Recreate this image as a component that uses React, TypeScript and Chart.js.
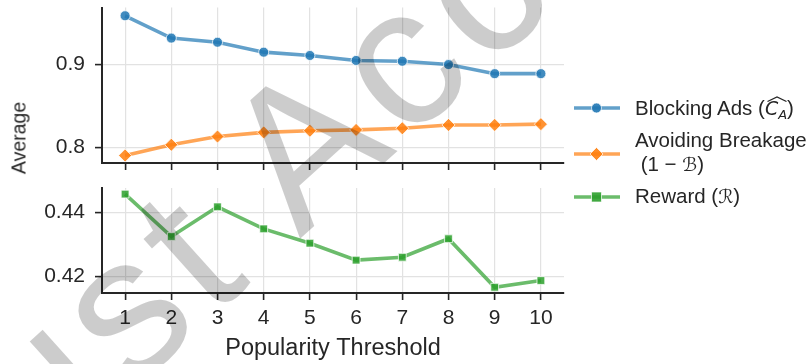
import React, { useEffect, useRef } from "react";
import { Chart, registerables } from "chart.js";
Chart.register(...registerables);

const thresholds = ["1", "2", "3", "4", "5", "6", "7", "8", "9", "10"];
const blockingAds = [0.959, 0.932, 0.927, 0.915, 0.911, 0.905, 0.904, 0.9, 0.889, 0.889];
const avoidingBreakage = [0.79, 0.803, 0.813, 0.818, 0.82, 0.821, 0.823, 0.827, 0.827, 0.828];
const reward = [0.4458, 0.4325, 0.4418, 0.4349, 0.4304, 0.4251, 0.426, 0.4318, 0.4166, 0.4187];
const topTicks = [0.8, 0.9];
const bottomTicks = [0.42, 0.44];
const topRange = [0.781, 0.969];
const bottomRange = [0.4148, 0.4477];

const FONT = "'Liberation Sans', Arial, sans-serif";
const DARK = "#262626";
const GRID = "#e2e2e2";

function zeroPad(s: any) {
  s.paddingTop = 0;
  s.paddingBottom = 0;
  s.paddingLeft = 0;
  s.paddingRight = 0;
}

function xScale(showLabels: boolean, height: number) {
  return {
    type: "category" as const,
    offset: true,
    grid: {
      offset: false,
      color: GRID,
      lineWidth: 1.2,
      drawTicks: true,
      tickLength: 7,
      tickColor: DARK,
      tickWidth: 1.6,
    },
    border: { color: DARK, width: 2 },
    ticks: {
      display: showLabels,
      color: DARK,
      padding: 6,
      font: { family: FONT, size: 21 },
      maxRotation: 0,
    },
    title: showLabels
      ? {
          display: true,
          text: "Popularity Threshold",
          color: DARK,
          font: { family: FONT, size: 23.5 },
          padding: { top: 0, bottom: 1 },
        }
      : { display: false },
    afterFit: (s: any) => {
      s.height = height;
      zeroPad(s);
    },
  };
}

function yScale(range: number[], ticks: number[], digits: number) {
  return {
    type: "linear" as const,
    min: range[0],
    max: range[1],
    afterBuildTicks: (s: any) => {
      s.ticks = ticks.map((v) => ({ value: v }));
    },
    afterFit: (s: any) => {
      s.width = 102;
      zeroPad(s);
    },
    grid: {
      color: GRID,
      lineWidth: 1.2,
      drawTicks: true,
      tickLength: 7,
      tickColor: DARK,
      tickWidth: 1.6,
    },
    border: { color: DARK, width: 2 },
    ticks: {
      color: DARK,
      padding: 10,
      font: { family: FONT, size: 21 },
      callback: (v: any) => Number(v).toFixed(digits),
    },
  };
}

function ds(label: string, data: number[], rgb: string, style: string, radius: number) {
  return {
    label,
    data,
    borderColor: `rgba(${rgb},0.7)`,
    backgroundColor: `rgba(${rgb},0.85)`,
    borderWidth: 3.6,
    pointStyle: style,
    pointRadius: radius,
    pointBackgroundColor: `rgba(${rgb},0.85)`,
    pointBorderColor: "rgba(255,255,255,0.75)",
    pointBorderWidth: 1,
    tension: 0,
  };
}

const BLUE = "31,119,180";
const ORANGE = "255,127,14";
const GREEN = "44,160,44";

function LegendMarker({ rgb, kind }: { rgb: string; kind: string }) {
  const c = 22.5;
  let marker: any = null;
  if (kind === "circle") marker = <circle cx={c} cy={8} r={5} fill={`rgba(${rgb},0.9)`} stroke="rgba(255,255,255,0.7)" strokeWidth={1} />;
  if (kind === "diamond")
    marker = (
      <polygon
        points={`${c},1.5 ${c + 6.5},8 ${c},14.5 ${c - 6.5},8`}
        fill={`rgba(${rgb},0.9)`}
        stroke="rgba(255,255,255,0.7)"
        strokeWidth={1}
      />
    );
  if (kind === "square") marker = <rect x={c - 5} y={3} width={10} height={10} fill={`rgba(${rgb},0.9)`} stroke="rgba(255,255,255,0.7)" strokeWidth={1} />;
  return (
    <svg width={46} height={16} style={{ display: "block" }}>
      <line x1={0} y1={8} x2={46} y2={8} stroke={`rgba(${rgb},0.7)`} strokeWidth={3.6} />
      {marker}
    </svg>
  );
}

export default function App() {
  const topRef = useRef<HTMLCanvasElement>(null);
  const botRef = useRef<HTMLCanvasElement>(null);

  useEffect(() => {
    const top = new Chart(topRef.current!, {
      type: "line",
      data: {
        labels: thresholds,
        datasets: [
          ds("Blocking Ads", blockingAds, BLUE, "circle", 5),
          ds("Avoiding Breakage", avoidingBreakage, ORANGE, "rectRot", 6.5),
        ],
      },
      options: {
        responsive: false,
        animation: false,
        layout: { padding: { top: 5, right: 36, left: 0, bottom: 0 } },
        plugins: { legend: { display: false }, tooltip: { enabled: false } },
        scales: {
          x: xScale(false, 12) as any,
          y: yScale(topRange, topTicks, 1) as any,
        },
      },
    });
    const bot = new Chart(botRef.current!, {
      type: "line",
      data: {
        labels: thresholds,
        datasets: [ds("Reward", reward, GREEN, "rect", 5.5)],
      },
      options: {
        responsive: false,
        animation: false,
        layout: { padding: { top: 8, right: 36, left: 0, bottom: 0 } },
        plugins: { legend: { display: false }, tooltip: { enabled: false } },
        scales: {
          x: xScale(true, 71) as any,
          y: yScale(bottomRange, bottomTicks, 2) as any,
        },
      },
    });
    return () => {
      top.destroy();
      bot.destroy();
    };
  }, []);

  const textStyle: React.CSSProperties = {
    position: "absolute",
    fontFamily: FONT,
    fontSize: 20.5,
    color: DARK,
    lineHeight: "24px",
    whiteSpace: "pre",
  };
  const math: React.CSSProperties = { fontFamily: "'DejaVu Sans', sans-serif", fontStyle: "italic", fontSize: 19 };

  return (
    <div style={{ position: "absolute", left: 0, top: 0, width: 809, height: 364, background: "#fff", overflow: "hidden" }}>
      <canvas ref={topRef} width={600} height={175} style={{ position: "absolute", left: 0, top: 0 }} />
      <canvas ref={botRef} width={600} height={184} style={{ position: "absolute", left: 0, top: 180 }} />
      <div
        style={{
          position: "absolute",
          left: 19,
          top: 138,
          transform: "translate(-50%, -50%) rotate(-90deg)",
          fontFamily: FONT,
          fontSize: 19.5,
          color: DARK,
          whiteSpace: "nowrap",
        }}
      >
        Average
      </div>
      <div style={{ position: "absolute", left: 574, top: 100 }}>
        <LegendMarker rgb={BLUE} kind="circle" />
      </div>
      <div style={{ ...textStyle, left: 635, top: 96 }}>
        Blocking Ads (
        <span style={{ ...math, position: "relative", display: "inline-block", lineHeight: "24px" }}>
          C<span style={{ fontSize: 13, verticalAlign: "-0.3em", lineHeight: 0 }}>A</span>
          <svg
            width={20}
            height={6}
            viewBox="0 0 20 6"
            preserveAspectRatio="none"
            style={{ position: "absolute", left: 2, top: 0 }}
          >
            <polyline points="0.5,5.5 10,1 19.5,5.5" fill="none" stroke={DARK} strokeWidth={1.2} />
          </svg>
        </span>
        )
      </div>
      <div style={{ position: "absolute", left: 574, top: 146 }}>
        <LegendMarker rgb={ORANGE} kind="diamond" />
      </div>
      <div style={{ ...textStyle, left: 635, top: 127.5 }}>
        {"Avoiding Breakage\n (1 \u2212 "}
        <span style={math}>{"\u212C"}</span>)
      </div>
      <div style={{ position: "absolute", left: 574, top: 189 }}>
        <LegendMarker rgb={GREEN} kind="square" />
      </div>
      <div style={{ ...textStyle, left: 635, top: 184 }}>
        Reward (<span style={math}>{"\u211B"}</span>)
      </div>
      <svg width={809} height={364} style={{ position: "absolute", left: 0, top: 0, pointerEvents: "none" }}>
        <text
          x={-40}
          y={545}
          transform="rotate(-42 -40 545)"
          fontFamily={FONT}
          fontSize={198}
          letterSpacing={10}
          fill="rgba(0,0,0,0.2)"
        >
          Just Accepted
        </text>
      </svg>
    </div>
  );
}
